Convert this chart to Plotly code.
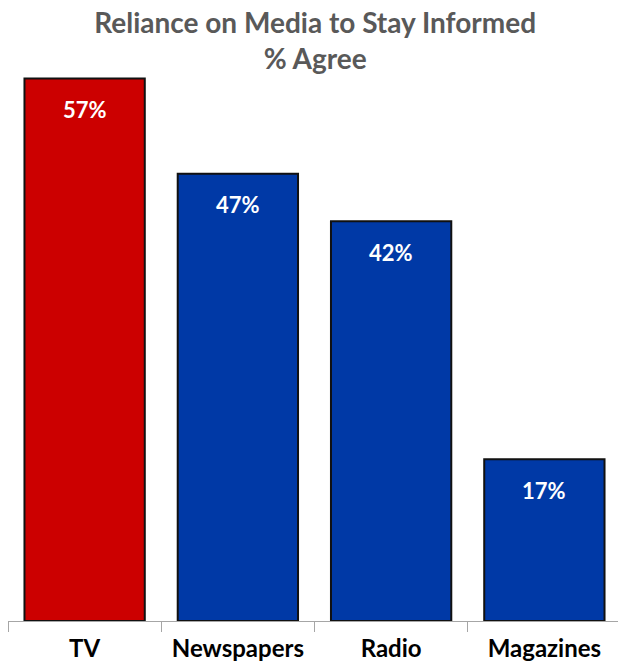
import plotly.graph_objects as go

categories = ["TV", "Newspapers", "Radio", "Magazines"]
values = [57, 47, 42, 17]
labels = ["57%", "47%", "42%", "17%"]
colors = ["#CC0000", "#0039A6", "#0039A6", "#0039A6"]
title_text = "Reliance on Media to Stay Informed<br>% Agree"

FONT = "Lato"

fig = go.Figure()
fig.add_trace(go.Bar(
    x=categories, y=values,
    marker=dict(color=colors, line=dict(color="#111111", width=2)),
    hoverinfo="skip",
))

for c, v, t in zip(categories, values, labels):
    fig.add_annotation(x=c, y=v, text=t, showarrow=False, yanchor="middle",
                       yshift=-31, font=dict(family=FONT, size=22, color="white", weight="bold"))

fig.update_layout(
    width=618, height=654,
    margin=dict(l=0, r=5, t=42, b=41),
    paper_bgcolor="white", plot_bgcolor="white",
    bargap=0.215,
    showlegend=False,
    title=dict(text=title_text, x=0.497, xanchor="center", xref="container",
               y=0.962, yanchor="top", yref="container",
               font=dict(family=FONT, size=28, color="#595959", weight="bold")),
    xaxis=dict(showline=True, linecolor="#A6A6A6", linewidth=1,
               ticks="outside", tickson="boundaries", ticklen=10, tickcolor="#A6A6A6",
               ticklabelstandoff=6,
               tickfont=dict(family=FONT, size=24, color="black", weight="bold"),
               showgrid=False, automargin=False),
    yaxis=dict(range=[0, 60], visible=False, showgrid=False),
)

fig.write_html("out.html")
